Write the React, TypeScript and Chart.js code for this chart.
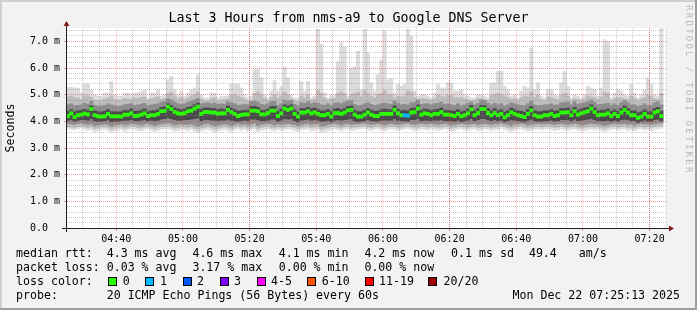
import React, { useEffect, useRef } from 'react';
import { Chart, registerables } from 'chart.js';

Chart.register(...registerables);

const titleText = 'Last 3 Hours from nms-a9 to Google DNS Server';
const yAxisTitle = 'Seconds';
const watermark = 'RRDTOOL / TOBI OETIKER';

// time axis in minutes after 04:00
const windowStart = 25 + 13 / 60; // 04:25:13
const windowEnd = windowStart + 180; // 07:25:13
const firstStep = 25; // first one-minute step: 04:25-04:26

const timeLabelMinutes = [40, 60, 80, 100, 120, 140, 160, 180, 200];
const timeLabels = ['04:40', '05:00', '05:20', '05:40', '06:00', '06:20', '06:40', '07:00', '07:20'];
const strongTimeLines = [80, 140, 200];

const yLabelValues = [0, 1, 2, 3, 4, 5, 6, 7];
const yLabels = ['0.0  ', '1.0 m', '2.0 m', '3.0 m', '4.0 m', '5.0 m', '6.0 m', '7.0 m'];

// median round trip time per minute (ms)
const medianRtt = [
  4.20, 4.30, 4.16, 4.23, 4.25, 4.29, 4.26, 4.46, 4.23, 4.19, 4.18, 4.19, 4.28, 4.19, 4.19, 4.19, 4.18, 4.25, 4.25, 4.30, 4.20, 4.21, 4.25, 4.30, 4.20, 4.23, 4.23, 4.28, 4.38, 4.39, 4.55, 4.46, 4.35, 4.30, 4.28, 4.31,
  4.38, 4.40, 4.48, 4.55, 4.28, 4.35, 4.35, 4.33, 4.33, 4.29, 4.30, 4.30, 4.43, 4.35, 4.28, 4.20, 4.24, 4.26, 4.26, 4.40, 4.40, 4.38, 4.26, 4.26, 4.31, 4.40, 4.40, 4.20, 4.30, 4.48, 4.43, 4.48, 4.28, 4.18, 4.33, 4.33,
  4.38, 4.30, 4.34, 4.28, 4.23, 4.23, 4.28, 4.18, 4.31, 4.31, 4.28, 4.33, 4.41, 4.43, 4.25, 4.18, 4.18, 4.25, 4.33, 4.25, 4.20, 4.20, 4.28, 4.28, 4.28, 4.28, 4.43, 4.30, 4.23, 4.23, 4.21, 4.33, 4.35, 4.48, 4.25, 4.30,
  4.28, 4.23, 4.28, 4.28, 4.35, 4.25, 4.25, 4.23, 4.20, 4.28, 4.19, 4.23, 4.30, 4.45, 4.23, 4.31, 4.46, 4.46, 4.31, 4.23, 4.31, 4.23, 4.28, 4.15, 4.23, 4.34, 4.28, 4.23, 4.20, 4.16, 4.28, 4.41, 4.23, 4.18, 4.18, 4.23,
  4.23, 4.28, 4.20, 4.23, 4.33, 4.33, 4.35, 4.23, 4.38, 4.25, 4.30, 4.34, 4.38, 4.48, 4.35, 4.23, 4.25, 4.25, 4.30, 4.20, 4.28, 4.20, 4.33, 4.43, 4.33, 4.23, 4.23, 4.13, 4.18, 4.28, 4.18, 4.18, 4.33, 4.38, 4.20,
];

// slowest ping per minute (ms)
const pingMax = [
  5.28, 5.28, 5.25, 5.25, 5.06, 5.40, 5.40, 5.19, 5.00, 4.94, 4.94, 5.06, 5.06, 5.50, 5.00, 4.94, 4.94, 5.06, 5.06, 5.00, 5.06, 5.06, 5.13, 5.19, 4.88, 5.06, 5.06, 5.19, 4.94, 5.00, 5.56, 5.69, 5.19, 5.00, 5.13, 4.94,
  5.06, 5.19, 5.25, 5.75, 5.00, 4.88, 4.88, 5.06, 5.06, 4.88, 4.94, 4.94, 4.94, 5.40, 5.40, 5.40, 5.25, 5.00, 4.88, 4.94, 5.94, 5.94, 5.63, 5.00, 4.88, 5.13, 5.53, 5.13, 5.31, 6.03, 5.63, 5.00, 4.88, 4.88, 5.50, 5.13,
  5.50, 4.88, 4.94, 7.45, 6.90, 5.06, 4.88, 5.00, 5.00, 6.25, 6.95, 6.80, 4.94, 6.00, 6.05, 6.63, 5.19, 7.45, 6.56, 5.44, 5.13, 5.75, 6.30, 7.40, 5.56, 5.60, 5.06, 5.38, 5.31, 5.38, 7.45, 7.20, 5.13, 4.94, 5.00, 5.00,
  4.94, 4.88, 5.06, 5.38, 5.25, 5.25, 5.44, 5.44, 5.13, 5.13, 5.19, 5.00, 4.94, 4.88, 4.88, 5.00, 5.00, 4.94, 4.88, 5.44, 5.44, 5.88, 5.88, 5.31, 5.19, 4.94, 5.00, 4.88, 5.13, 5.31, 5.25, 6.75, 5.19, 5.44, 4.94, 4.88,
  5.19, 5.19, 5.00, 4.94, 5.44, 5.88, 5.31, 4.88, 5.00, 4.94, 4.88, 5.00, 5.31, 5.25, 5.19, 4.94, 5.25, 7.06, 7.00, 4.88, 5.06, 5.19, 5.13, 5.00, 4.94, 5.38, 5.06, 4.88, 5.00, 5.19, 5.63, 5.38, 5.00, 4.94, 7.60,
];

// fastest ping per minute (ms)
const pingMin = [
  3.72, 3.70, 3.68, 3.72, 3.75, 3.70, 3.66, 3.70, 3.62, 3.64, 3.68, 3.70, 3.66, 3.60, 3.64, 3.66, 3.70, 3.62, 3.68, 3.72, 3.70, 3.66, 3.64, 3.70, 3.72, 3.68, 3.62, 3.66, 3.70, 3.72, 3.74, 3.68, 3.64, 3.66, 3.70, 3.68,
  3.66, 3.70, 3.62, 3.58, 3.64, 3.68, 3.70, 3.66, 3.60, 3.64, 3.68, 3.70, 3.66, 3.62, 3.68, 3.72, 3.66, 3.70, 3.64, 3.68, 3.72, 3.62, 3.66, 3.70, 3.72, 3.68, 3.64, 3.70, 3.66, 3.68, 3.72, 3.70, 3.66, 3.62, 3.68, 3.70,
  3.72, 3.66, 3.68, 3.70, 3.58, 3.62, 3.66, 3.70, 3.72, 3.68, 3.64, 3.70, 3.72, 3.66, 3.68, 3.70, 3.72, 3.74, 3.68, 3.66, 3.70, 3.72, 3.68, 3.64, 3.70, 3.72, 3.70, 3.66, 3.68, 3.72, 3.74, 3.70, 3.66, 3.68, 3.72, 3.70,
  3.68, 3.72, 3.70, 3.66, 3.68, 3.72, 3.70, 3.64, 3.66, 3.70, 3.72, 3.68, 3.66, 3.70, 3.72, 3.66, 3.68, 3.72, 3.70, 3.66, 3.68, 3.70, 3.74, 3.70, 3.66, 3.62, 3.68, 3.70, 3.72, 3.68, 3.64, 3.66, 3.70, 3.72, 3.68, 3.70,
  3.72, 3.70, 3.66, 3.68, 3.72, 3.70, 3.66, 3.70, 3.72, 3.68, 3.64, 3.66, 3.70, 3.72, 3.68, 3.70, 3.66, 3.62, 3.66, 3.70, 3.72, 3.68, 3.70, 3.72, 3.66, 3.68, 3.64, 3.70, 3.72, 3.68, 3.70, 3.66, 3.70, 3.72, 3.74,
];

// smoke band 2 (pings 3..18)
const band2Hi = [
  4.92, 4.95, 4.90, 4.88, 4.82, 4.98, 4.95, 4.90, 4.80, 4.78, 4.80, 4.85, 4.88, 4.95, 4.82, 4.78, 4.80, 4.86, 4.84, 4.82, 4.88, 4.86, 4.90, 4.92, 4.78, 4.84, 4.88, 4.92, 4.82, 4.86, 5.05, 5.10, 4.95, 4.85, 4.90, 4.80,
  4.88, 4.95, 5.00, 5.10, 4.85, 4.78, 4.76, 4.85, 4.88, 4.78, 4.80, 4.82, 4.84, 4.98, 5.00, 4.95, 4.90, 4.84, 4.76, 4.80, 5.05, 5.10, 5.00, 4.86, 4.78, 4.90, 5.00, 4.88, 4.95, 5.10, 5.00, 4.85, 4.78, 4.76, 4.95, 4.88,
  5.00, 4.80, 4.84, 5.15, 5.05, 4.88, 4.78, 4.85, 4.86, 5.05, 5.10, 5.05, 4.84, 5.00, 5.05, 5.10, 4.92, 5.15, 5.05, 4.95, 4.88, 5.00, 5.05, 5.15, 4.98, 5.00, 4.88, 4.95, 4.92, 4.95, 5.15, 5.10, 4.90, 4.82, 4.85, 4.86,
  4.82, 4.78, 4.86, 4.98, 4.95, 4.92, 5.00, 4.98, 4.90, 4.88, 4.90, 4.84, 4.80, 4.78, 4.80, 4.85, 4.86, 4.82, 4.78, 4.98, 5.00, 5.05, 5.00, 4.95, 4.90, 4.82, 4.86, 4.78, 4.88, 4.95, 4.92, 5.10, 4.90, 4.98, 4.82, 4.78,
  4.92, 4.90, 4.85, 4.82, 4.98, 5.05, 4.95, 4.78, 4.85, 4.82, 4.78, 4.85, 4.95, 4.92, 4.90, 4.82, 4.92, 5.10, 5.05, 4.78, 4.86, 4.90, 4.88, 4.84, 4.82, 4.95, 4.86, 4.78, 4.85, 4.90, 5.00, 4.95, 4.85, 4.82, 5.05,
];
const band2Lo = [
  3.80, 3.79, 3.77, 3.81, 3.84, 3.80, 3.76, 3.79, 3.73, 3.75, 3.78, 3.80, 3.77, 3.71, 3.75, 3.77, 3.80, 3.74, 3.78, 3.82, 3.80, 3.77, 3.75, 3.80, 3.82, 3.78, 3.73, 3.77, 3.80, 3.82, 3.84, 3.79, 3.75, 3.77, 3.80, 3.78,
  3.77, 3.80, 3.74, 3.70, 3.75, 3.78, 3.80, 3.77, 3.72, 3.75, 3.78, 3.80, 3.77, 3.73, 3.78, 3.82, 3.77, 3.80, 3.75, 3.78, 3.82, 3.73, 3.77, 3.80, 3.82, 3.78, 3.75, 3.80, 3.77, 3.78, 3.82, 3.80, 3.77, 3.73, 3.78, 3.80,
  3.82, 3.77, 3.78, 3.80, 3.70, 3.73, 3.77, 3.80, 3.82, 3.78, 3.75, 3.80, 3.82, 3.77, 3.78, 3.80, 3.82, 3.84, 3.78, 3.77, 3.80, 3.82, 3.78, 3.75, 3.80, 3.82, 3.80, 3.77, 3.78, 3.82, 3.84, 3.80, 3.77, 3.78, 3.82, 3.80,
  3.78, 3.82, 3.80, 3.77, 3.78, 3.82, 3.80, 3.75, 3.77, 3.80, 3.82, 3.78, 3.77, 3.80, 3.82, 3.77, 3.78, 3.82, 3.80, 3.77, 3.78, 3.80, 3.84, 3.80, 3.77, 3.73, 3.78, 3.80, 3.82, 3.78, 3.75, 3.77, 3.80, 3.82, 3.78, 3.80,
  3.82, 3.80, 3.77, 3.78, 3.82, 3.80, 3.77, 3.80, 3.82, 3.78, 3.75, 3.77, 3.80, 3.82, 3.78, 3.80, 3.77, 3.73, 3.77, 3.80, 3.82, 3.78, 3.80, 3.82, 3.77, 3.78, 3.75, 3.80, 3.82, 3.78, 3.80, 3.77, 3.80, 3.82, 3.84,
];

// smoke band 3 (pings 6..15)
const band3Hi = [
  4.62, 4.66, 4.58, 4.60, 4.62, 4.68, 4.64, 4.75, 4.60, 4.56, 4.58, 4.60, 4.66, 4.62, 4.58, 4.56, 4.58, 4.62, 4.64, 4.66, 4.60, 4.62, 4.64, 4.68, 4.58, 4.62, 4.64, 4.66, 4.72, 4.74, 4.85, 4.80, 4.72, 4.66, 4.64, 4.66,
  4.72, 4.75, 4.80, 4.86, 4.66, 4.68, 4.70, 4.66, 4.68, 4.64, 4.66, 4.64, 4.74, 4.70, 4.66, 4.60, 4.62, 4.64, 4.62, 4.74, 4.76, 4.72, 4.64, 4.62, 4.66, 4.74, 4.76, 4.60, 4.66, 4.80, 4.76, 4.78, 4.64, 4.58, 4.70, 4.68,
  4.74, 4.66, 4.70, 4.68, 4.62, 4.60, 4.66, 4.58, 4.68, 4.70, 4.66, 4.72, 4.76, 4.78, 4.64, 4.58, 4.60, 4.66, 4.70, 4.64, 4.60, 4.62, 4.66, 4.68, 4.66, 4.64, 4.76, 4.68, 4.62, 4.64, 4.62, 4.70, 4.72, 4.80, 4.64, 4.66,
  4.66, 4.62, 4.66, 4.68, 4.72, 4.64, 4.66, 4.62, 4.60, 4.66, 4.58, 4.62, 4.68, 4.72, 4.62, 4.68, 4.80, 4.78, 4.68, 4.62, 4.68, 4.62, 4.66, 4.56, 4.62, 4.70, 4.66, 4.62, 4.60, 4.58, 4.66, 4.76, 4.62, 4.58, 4.60, 4.62,
  4.62, 4.66, 4.60, 4.62, 4.70, 4.72, 4.72, 4.62, 4.74, 4.64, 4.68, 4.70, 4.74, 4.80, 4.72, 4.62, 4.64, 4.66, 4.68, 4.60, 4.66, 4.60, 4.70, 4.78, 4.70, 4.62, 4.62, 4.56, 4.60, 4.66, 4.58, 4.60, 4.70, 4.74, 4.62,
];
const band3Lo = [
  3.92, 3.90, 3.88, 3.92, 3.94, 3.90, 3.88, 3.90, 3.84, 3.86, 3.88, 3.90, 3.88, 3.82, 3.86, 3.88, 3.90, 3.86, 3.88, 3.92, 3.90, 3.88, 3.86, 3.90, 3.92, 3.88, 3.84, 3.88, 3.90, 3.92, 3.94, 3.90, 3.86, 3.88, 3.90, 3.88,
  3.88, 3.90, 3.86, 3.82, 3.86, 3.90, 3.92, 3.88, 3.84, 3.86, 3.88, 3.90, 3.88, 3.84, 3.88, 3.92, 3.88, 3.90, 3.86, 3.90, 3.92, 3.84, 3.88, 3.90, 3.92, 3.90, 3.86, 3.90, 3.88, 3.90, 3.92, 3.90, 3.88, 3.84, 3.88, 3.90,
  3.92, 3.88, 3.90, 3.90, 3.82, 3.84, 3.88, 3.90, 3.92, 3.90, 3.86, 3.90, 3.92, 3.88, 3.90, 3.90, 3.92, 3.94, 3.90, 3.88, 3.90, 3.92, 3.90, 3.86, 3.90, 3.92, 3.90, 3.88, 3.90, 3.92, 3.94, 3.90, 3.88, 3.90, 3.92, 3.90,
  3.90, 3.92, 3.90, 3.88, 3.90, 3.92, 3.90, 3.86, 3.88, 3.90, 3.92, 3.90, 3.88, 3.90, 3.92, 3.88, 3.90, 3.92, 3.90, 3.88, 3.90, 3.90, 3.94, 3.90, 3.88, 3.84, 3.90, 3.90, 3.92, 3.90, 3.86, 3.88, 3.90, 3.92, 3.90, 3.90,
  3.92, 3.90, 3.88, 3.90, 3.92, 3.90, 3.88, 3.90, 3.92, 3.90, 3.86, 3.88, 3.90, 3.92, 3.90, 3.90, 3.88, 3.84, 3.88, 3.90, 3.92, 3.90, 3.90, 3.92, 3.88, 3.90, 3.86, 3.90, 3.92, 3.90, 3.90, 3.88, 3.90, 3.92, 3.94,
];

// smoke core (pings 9..12)
const band4Hi = [
  4.38, 4.44, 4.36, 4.40, 4.42, 4.45, 4.42, 4.58, 4.40, 4.36, 4.35, 4.38, 4.44, 4.36, 4.36, 4.35, 4.36, 4.42, 4.40, 4.46, 4.38, 4.38, 4.42, 4.46, 4.36, 4.40, 4.40, 4.44, 4.52, 4.54, 4.66, 4.60, 4.50, 4.46, 4.44, 4.46,
  4.52, 4.55, 4.62, 4.68, 4.45, 4.50, 4.50, 4.48, 4.48, 4.44, 4.46, 4.45, 4.58, 4.50, 4.44, 4.38, 4.40, 4.42, 4.42, 4.55, 4.56, 4.52, 4.42, 4.42, 4.46, 4.55, 4.56, 4.38, 4.46, 4.62, 4.58, 4.62, 4.44, 4.35, 4.48, 4.48,
  4.52, 4.46, 4.50, 4.44, 4.40, 4.40, 4.44, 4.36, 4.46, 4.48, 4.44, 4.48, 4.56, 4.58, 4.42, 4.36, 4.36, 4.42, 4.48, 4.42, 4.38, 4.38, 4.44, 4.46, 4.44, 4.44, 4.58, 4.46, 4.40, 4.42, 4.40, 4.48, 4.50, 4.62, 4.42, 4.46,
  4.44, 4.40, 4.44, 4.45, 4.50, 4.42, 4.42, 4.40, 4.38, 4.44, 4.36, 4.40, 4.46, 4.60, 4.40, 4.48, 4.60, 4.60, 4.48, 4.40, 4.48, 4.40, 4.44, 4.34, 4.40, 4.50, 4.44, 4.40, 4.38, 4.34, 4.44, 4.56, 4.40, 4.36, 4.36, 4.40,
  4.40, 4.44, 4.38, 4.40, 4.48, 4.48, 4.50, 4.40, 4.52, 4.42, 4.46, 4.50, 4.52, 4.62, 4.50, 4.40, 4.42, 4.42, 4.46, 4.38, 4.44, 4.38, 4.48, 4.58, 4.48, 4.40, 4.40, 4.32, 4.36, 4.44, 4.36, 4.36, 4.48, 4.52, 4.38,
];
const band4Lo = [
  4.04, 4.06, 4.00, 4.04, 4.06, 4.06, 4.04, 4.10, 4.02, 4.00, 4.00, 4.02, 4.06, 3.98, 4.00, 4.00, 4.02, 4.04, 4.04, 4.06, 4.02, 4.02, 4.04, 4.06, 4.02, 4.04, 4.02, 4.04, 4.08, 4.10, 4.14, 4.10, 4.06, 4.04, 4.04, 4.06,
  4.06, 4.08, 4.10, 4.12, 4.02, 4.06, 4.06, 4.04, 4.04, 4.02, 4.04, 4.04, 4.08, 4.04, 4.02, 4.00, 4.02, 4.04, 4.02, 4.08, 4.08, 4.06, 4.02, 4.02, 4.04, 4.08, 4.08, 4.00, 4.04, 4.10, 4.08, 4.10, 4.02, 3.98, 4.04, 4.06,
  4.08, 4.04, 4.06, 4.04, 4.00, 4.00, 4.04, 3.98, 4.04, 4.06, 4.04, 4.06, 4.08, 4.10, 4.02, 3.98, 4.00, 4.02, 4.06, 4.02, 4.00, 4.00, 4.04, 4.04, 4.04, 4.04, 4.10, 4.04, 4.02, 4.02, 4.00, 4.06, 4.06, 4.10, 4.02, 4.04,
  4.04, 4.02, 4.04, 4.04, 4.06, 4.02, 4.02, 4.02, 4.00, 4.04, 3.98, 4.02, 4.04, 4.10, 4.02, 4.06, 4.10, 4.10, 4.06, 4.02, 4.06, 4.02, 4.04, 3.98, 4.02, 4.06, 4.04, 4.02, 4.00, 3.98, 4.04, 4.08, 4.02, 4.00, 4.00, 4.02,
  4.02, 4.04, 4.00, 4.02, 4.06, 4.06, 4.06, 4.02, 4.08, 4.02, 4.04, 4.06, 4.08, 4.10, 4.06, 4.02, 4.02, 4.02, 4.04, 4.00, 4.04, 4.00, 4.06, 4.08, 4.06, 4.02, 4.02, 3.96, 4.00, 4.04, 4.00, 4.00, 4.06, 4.08, 4.02,
];

// minutes (step index) with lost pings, and how many were lost
const lossSteps = [101, 102];
const lossCounts = [1, 1];

// legend
const lossLegendLabels = ['0', '1', '2', '3', '4-5', '6-10', '11-19', '20/20'];
const lossLegendColors = ['#26ff00', '#00b8ff', '#0059ff', '#7e00ff', '#ff00ff', '#ff5500', '#ff0000', '#a00000'];
const lossLegendMax = [0, 1, 2, 3, 5, 10, 19, 20];
const rttStats = ['4.3 ms avg', '4.6 ms max', '4.1 ms min', '4.2 ms now', '0.1 ms sd'];
const rateStat = ['49.4', 'am/s'];
const lossStats = ['0.03 % avg', '3.17 % max', '0.00 % min', '0.00 % now'];
const probeText = '20 ICMP Echo Pings (56 Bytes) every 60s';
const dateText = 'Mon Dec 22 07:25:13 2025';

// layout / style constants
const MONO = '"DejaVu Sans Mono", monospace';
const statX = [106.7, 192.4, 278.7, 364.4, 451.1];
const rateX = [528.9, 578.7];
const boxX = [108, 145, 182.5, 219.5, 257, 307, 365, 428];
const boxLabelX = [122.7, 160, 197, 234, 271, 321.8, 379, 443.5];
const rowY = [254, 268, 282, 296];
const medianHalfHeight = 0.06;

const lossColor = (lost: number) => {
  for (let i = 0; i < lossLegendMax.length; i++) if (lost <= lossLegendMax[i]) return lossLegendColors[i];
  return lossLegendColors[lossLegendColors.length - 1];
};

const isWhole = (v: number) => Math.abs(v - Math.round(v)) < 1e-6;

const rrdPlugin = {
  id: 'rrdLook',
  beforeDraw(chart: any) {
    const { ctx, width, height, chartArea: a } = chart;
    ctx.save();
    ctx.fillStyle = '#f2f2f2';
    ctx.fillRect(0, 0, width, height);
    ctx.fillStyle = '#cfcfcf';
    ctx.fillRect(0, 0, width, 2);
    ctx.fillRect(0, 0, 2, height);
    ctx.fillStyle = '#9e9e9e';
    ctx.fillRect(0, height - 2, width, 2);
    ctx.fillRect(width - 2, 0, 2, height);
    ctx.fillStyle = '#ffffff';
    ctx.fillRect(a.left, a.top, a.right - a.left, a.bottom - a.top);
    ctx.restore();
  },
  afterDraw(chart: any) {
    const { ctx, width, chartArea: a } = chart;
    ctx.save();
    // axes
    ctx.strokeStyle = '#1f1f1f';
    ctx.lineWidth = 1;
    ctx.beginPath();
    ctx.moveTo(a.left - 5, a.bottom + 0.5);
    ctx.lineTo(a.right + 3, a.bottom + 0.5);
    ctx.stroke();
    ctx.beginPath();
    ctx.moveTo(a.left - 0.5, a.bottom + 4);
    ctx.lineTo(a.left - 0.5, a.top - 3);
    ctx.stroke();
    ctx.fillStyle = '#801f1f';
    ctx.beginPath();
    ctx.moveTo(a.right + 2, a.bottom - 2.5);
    ctx.lineTo(a.right + 7, a.bottom + 0.5);
    ctx.lineTo(a.right + 2, a.bottom + 3.5);
    ctx.closePath();
    ctx.fill();
    ctx.beginPath();
    ctx.moveTo(a.left - 3.5, a.top - 2);
    ctx.lineTo(a.left - 0.5, a.top - 7);
    ctx.lineTo(a.left + 2.5, a.top - 2);
    ctx.closePath();
    ctx.fill();

    // title
    ctx.fillStyle = '#000';
    ctx.font = `13.3px ${MONO}`;
    ctx.textAlign = 'center';
    ctx.textBaseline = 'middle';
    ctx.fillText(titleText, width / 2, 19);

    // legend
    ctx.font = `11.6px ${MONO}`;
    ctx.textAlign = 'left';
    ctx.fillText('median rtt:', 16, rowY[0]);
    rttStats.forEach((s, i) => ctx.fillText(s, statX[i], rowY[0]));
    rateStat.forEach((s, i) => ctx.fillText(s, rateX[i], rowY[0]));
    ctx.fillText('packet loss:', 16, rowY[1]);
    lossStats.forEach((s, i) => ctx.fillText(s, statX[i], rowY[1]));
    ctx.fillText('loss color:', 16, rowY[2]);
    lossLegendLabels.forEach((s, i) => {
      const bx = Math.round(boxX[i]);
      ctx.fillStyle = lossLegendColors[i];
      ctx.fillRect(bx, rowY[2] - 5, 9, 9);
      ctx.strokeStyle = '#000';
      ctx.strokeRect(bx + 0.5, rowY[2] - 4.5, 8, 8);
      ctx.fillStyle = '#000';
      ctx.fillText(s, boxLabelX[i], rowY[2]);
    });
    ctx.fillText('probe:', 16, rowY[3]);
    ctx.fillText(probeText, statX[0], rowY[3]);
    ctx.textAlign = 'right';
    ctx.fillText(dateText, 680, rowY[3]);

    // watermark
    ctx.translate(688, 5);
    ctx.rotate(Math.PI / 2);
    ctx.font = `9px ${MONO}`;
    (ctx as any).letterSpacing = '2.3px';
    ctx.fillStyle = '#b8b8b8';
    ctx.textAlign = 'left';
    ctx.textBaseline = 'middle';
    ctx.fillText(watermark, 0, 0);
    ctx.restore();
  },
};

export default function App() {
  const ref = useRef<HTMLCanvasElement | null>(null);

  useEffect(() => {
    if (!ref.current) return;
    const xs = medianRtt.map((_, i) => firstStep + i + 0.5);
    const band = (lo: number[], hi: number[]) => lo.map((v, i) => ({ x: xs[i], y: [v, hi[i]] }));
    const lostAt = (i: number) => {
      const k = lossSteps.indexOf(i);
      return k >= 0 ? lossCounts[k] : 0;
    };
    const common = {
      type: 'bar' as const,
      grouped: false,
      categoryPercentage: 1,
      barPercentage: 1,
      borderWidth: 0,
      clip: 0,
    };
    const layers = [
      { lo: pingMin, hi: pingMax, color: '#dcdcdc', order: 6 },
      { lo: band2Lo, hi: band2Hi, color: '#bdbdbd', order: 5 },
      { lo: band3Lo, hi: band3Hi, color: '#8e8e8e', order: 4 },
      { lo: band4Lo, hi: band4Hi, color: '#4a4a4a', order: 3 },
    ];
    const datasets: any[] = layers.map((l) => ({
      ...common,
      data: band(l.lo, l.hi),
      backgroundColor: l.color,
      order: l.order,
    }));
    datasets.push({
      ...common,
      data: medianRtt.map((m, i) => ({ x: xs[i], y: [m - medianHalfHeight, m + medianHalfHeight] })),
      backgroundColor: medianRtt.map((_, i) => lossColor(lostAt(i))),
      order: 1,
    });

    const xGridColor = (c: any) => {
      const v = Math.round(c.tick ? c.tick.value : 0);
      if (strongTimeLines.includes(v)) return 'rgba(222,60,60,0.75)';
      if (timeLabelMinutes.includes(v)) return 'rgba(222,79,79,0.35)';
      return 'rgba(140,140,140,0.45)';
    };
    const yGridColor = (c: any) => {
      const v = c.tick ? c.tick.value : 0;
      return isWhole(v) ? 'rgba(222,79,79,0.6)' : 'rgba(140,140,140,0.45)';
    };

    const chart = new Chart(ref.current, {
      type: 'bar',
      data: { datasets },
      plugins: [rrdPlugin],
      options: {
        animation: false,
        responsive: false,
        devicePixelRatio: 1,
        events: [],
        layout: { padding: { left: 0, right: 30, top: 28, bottom: 0 } },
        plugins: { legend: { display: false }, tooltip: { enabled: false }, title: { display: false } },
        scales: {
          x: {
            type: 'linear',
            min: windowStart,
            max: windowEnd,
            bounds: 'data',
            offset: false,
            afterBuildTicks: (s: any) => {
              const t = [];
              for (let m = 30; m <= 205; m += 5) t.push({ value: m });
              s.ticks = t;
            },
            afterFit: (s: any) => {
              s.height = 82;
            },
            grid: {
              offset: false,
              z: 1,
              color: xGridColor,
              lineWidth: 1,
              drawTicks: true,
              tickLength: 3,
              tickColor: (c: any) => {
                const v = Math.round(c.tick ? c.tick.value : 0);
                return timeLabelMinutes.includes(v) ? 'rgba(222,79,79,0.6)' : 'rgba(0,0,0,0)';
              },
            },
            border: { display: false, dash: [1, 1] },
            ticks: {
              autoSkip: false,
              maxRotation: 0,
              minRotation: 0,
              padding: 2,
              color: '#000',
              font: { family: MONO, size: 10 },
              callback: (value: any) => {
                const i = timeLabelMinutes.indexOf(Math.round(Number(value)));
                return i >= 0 ? timeLabels[i] : '';
              },
            },
          },
          y: {
            type: 'linear',
            min: 0,
            max: 7.5,
            bounds: 'data',
            afterBuildTicks: (s: any) => {
              const t = [];
              for (let i = 0; i <= 37; i++) t.push({ value: i / 5 });
              s.ticks = t;
            },
            afterFit: (s: any) => {
              s.width = 67;
            },
            grid: {
              z: 1,
              color: yGridColor,
              lineWidth: 1,
              drawTicks: true,
              tickLength: 3,
              tickColor: (c: any) => {
                const v = c.tick ? c.tick.value : 0;
                return isWhole(v) ? 'rgba(222,79,79,0.6)' : 'rgba(0,0,0,0)';
              },
            },
            border: { display: false, dash: [1, 1] },
            title: {
              display: true,
              text: yAxisTitle,
              color: '#000',
              font: { family: MONO, size: 11.6 },
              padding: { top: 4, bottom: 0 },
            },
            ticks: {
              autoSkip: false,
              padding: 4,
              color: '#000',
              font: { family: MONO, size: 10 },
              callback: (value: any) => {
                const v = Number(value);
                if (!isWhole(v)) return '';
                const i = yLabelValues.indexOf(Math.round(v));
                return i >= 0 ? yLabels[i] : '';
              },
            },
          },
        },
      } as any,
    });
    return () => chart.destroy();
  }, []);

  return (
    <div style={{ position: 'fixed', left: 0, top: 0, width: 697, height: 310 }}>
      <canvas ref={ref} width={697} height={310} style={{ display: 'block', width: 697, height: 310 }} />
    </div>
  );
}
